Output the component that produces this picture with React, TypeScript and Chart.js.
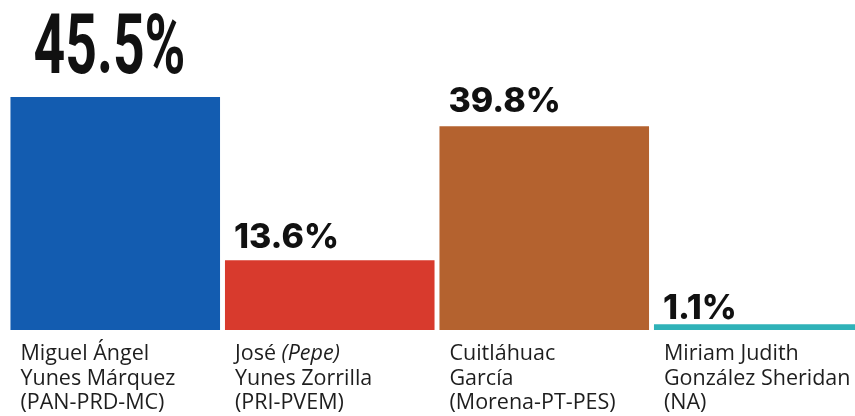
import React, { useEffect, useRef } from "react";
import { Chart, registerables } from "chart.js";

Chart.register(...registerables);

// ---- data ----
const categories = [
  "Miguel Ángel\nYunes Márquez\n(PAN-PRD-MC)",
  "José _(Pepe)_\nYunes Zorrilla\n(PRI-PVEM)",
  "Cuitláhuac\nGarcía\n(Morena-PT-PES)",
  "Miriam Judith\nGonzález Sheridan\n(NA)",
];
const votePercent = [45.5, 13.6, 39.8, 1.1];
const valueLabels = ["45.5%", "13.6%", "39.8%", "1.1%"];
const barColors = ["#135cb0", "#d83a2d", "#b4622f", "#2fb2b8"];
const yRange = [0, 50];

// ---- styling (not data) ----
const labelGaps = [24, 12, 14, 5];

if (typeof document !== "undefined") {
  document.documentElement.style.overflow = "hidden";
  document.body.style.overflow = "hidden";
  document.body.style.margin = "0";
}

const labelPlugin = {
  id: "barLabels",
  afterDatasetsDraw(chart: any) {
    const ctx: CanvasRenderingContext2D = chart.ctx;
    const meta = chart.getDatasetMeta(0);
    const area = chart.chartArea;
    meta.data.forEach((bar: any, i: number) => {
      const p = bar.getProps(["x", "y", "base", "width"], true);
      const left = p.x - p.width / 2;
      // value label
      ctx.save();
      ctx.fillStyle = "#111111";
      ctx.textAlign = "left";
      ctx.textBaseline = "alphabetic";
      if (i === 0) {
        ctx.font = "bold 84px Roboto";
        const w = ctx.measureText(valueLabels[i]).width;
        const sx = 152 / w;
        ctx.translate(left + 23, p.y - labelGaps[i]);
        ctx.scale(sx, 1);
        ctx.fillText(valueLabels[i], 0, 0);
      } else {
        ctx.font = "800 34px Inter";
        ctx.fillText(valueLabels[i], left + 9, p.y - labelGaps[i]);
      }
      ctx.restore();

      // category label
      ctx.save();
      ctx.fillStyle = "#1e1e1e";
      ctx.textAlign = "left";
      ctx.textBaseline = "alphabetic";
      const lines = String(chart.data.labels[i]).split("\n");
      lines.forEach((line, k) => {
        let x = left + 10;
        const y = area.bottom + 30 + k * 24.5;
        line.split("_").forEach((seg, s) => {
          if (!seg) return;
          ctx.font = (s % 2 === 1 ? "italic " : "") + "21.5px 'Open Sans'";
          ctx.fillText(seg, x, y);
          x += ctx.measureText(seg).width;
        });
      });
      ctx.restore();
    });
  },
};

export default function App() {
  const ref = useRef<HTMLCanvasElement | null>(null);
  useEffect(() => {
    if (!ref.current) return;
    const chart = new Chart(ref.current, {
      type: "bar",
      data: {
        labels: categories,
        datasets: [
          {
            data: votePercent,
            backgroundColor: barColors,
            borderWidth: 0,
            barPercentage: 0.977,
            categoryPercentage: 1,
          },
        ],
      },
      options: {
        animation: false,
        responsive: true,
        maintainAspectRatio: false,
        layout: { padding: { top: 66, bottom: 86, left: 0, right: 0 } },
        plugins: {
          legend: { display: false },
          tooltip: { enabled: false },
        },
        scales: {
          x: { display: false },
          y: { display: false, min: yRange[0], max: yRange[1] },
        },
      },
      plugins: [labelPlugin],
    });
    return () => chart.destroy();
  }, []);
  return (
    <div style={{ width: 855, height: 416, overflow: "hidden" }}>
      <div
        style={{
          width: 858,
          height: 408,
          position: "relative",
          marginLeft: 8,
          marginTop: 8,
          display: "inline-block",
        }}
      >
        <canvas ref={ref} />
      </div>
    </div>
  );
}
